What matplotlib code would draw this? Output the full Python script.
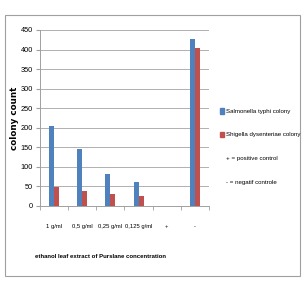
import numpy as np
import matplotlib.pyplot as plt
from matplotlib.patches import Patch

categories = ["1 g/ml", "0,5 g/ml", "0,25 g/ml", "0,125 g/ml", "+", "-"]
salmonella = [205, 147, 82, 62, 0, 428]
shigella = [49, 38, 30, 25, 0, 403]
series_names = ["Salmonella typhi colony", "Shigella dysenteriae colony"]
extra_legend = ["+ = positive control", "- = negatif controle"]

plt.rcParams['font.family'] = ['Liberation Sans', 'DejaVu Sans']

blue = "#4F81BD"
red = "#C0504D"

fig = plt.figure(figsize=(3.06, 2.82), dpi=100)
# outer chart border
fig.patches.append(plt.Rectangle((5 / 306, 6 / 282), 295 / 306, 261 / 282,
                                 transform=fig.transFigure, fill=False,
                                 edgecolor="#A0A0A0", linewidth=0.8))

ax = fig.add_axes([40 / 306, 1 - 206 / 282, 169 / 306, 176 / 282])

x = np.arange(len(categories))
w = 0.18
ax.bar(x - w / 2, salmonella, w, color=blue, label=series_names[0])
ax.bar(x + w / 2, shigella, w, color=red, label=series_names[1])

ax.set_xlim(-0.5, len(categories) - 0.5)
ax.set_ylim(0, 450)
ax.set_yticks(np.arange(0, 451, 50))
ax.tick_params(axis='y', labelsize=5.3, length=3, color="#A0A0A0", pad=2)
ax.yaxis.grid(True, color="#B0B0B0", linewidth=0.7)
ax.set_axisbelow(True)

ax.set_xticks(x)
ax.set_xticklabels(categories, fontsize=4.2)
ax.tick_params(axis='x', length=0, pad=13)
ax.set_xticks(np.arange(-0.5, len(categories), 1), minor=True)
ax.tick_params(axis='x', which='minor', length=3, color="#A0A0A0")

for s in ["top", "right"]:
    ax.spines[s].set_visible(False)
ax.spines["left"].set_color("#A0A0A0")
ax.spines["bottom"].set_color("#A0A0A0")
ax.spines["left"].set_linewidth(0.7)
ax.spines["bottom"].set_linewidth(0.7)

ax.set_ylabel("colony count", fontsize=6.3, fontweight="bold",
              family=["DejaVu Sans"], labelpad=1)
fig.text(35 / 306, 1 - 257 / 282, "ethanol leaf extract of Purslane concentration",
         fontsize=4.3, fontweight="bold", ha="left", va="center")

handles = [Patch(color=blue), Patch(color=red),
           Patch(color="none"), Patch(color="none")]
labels = series_names + extra_legend
fig.legend(handles, labels, loc="upper left", bbox_to_anchor=(217 / 306, 1 - 105 / 282),
           frameon=False, fontsize=4.4, handlelength=0.6, handleheight=1.0,
           handletextpad=0.3, labelspacing=2.9, borderpad=0)

fig.savefig("out.png", dpi=100)
